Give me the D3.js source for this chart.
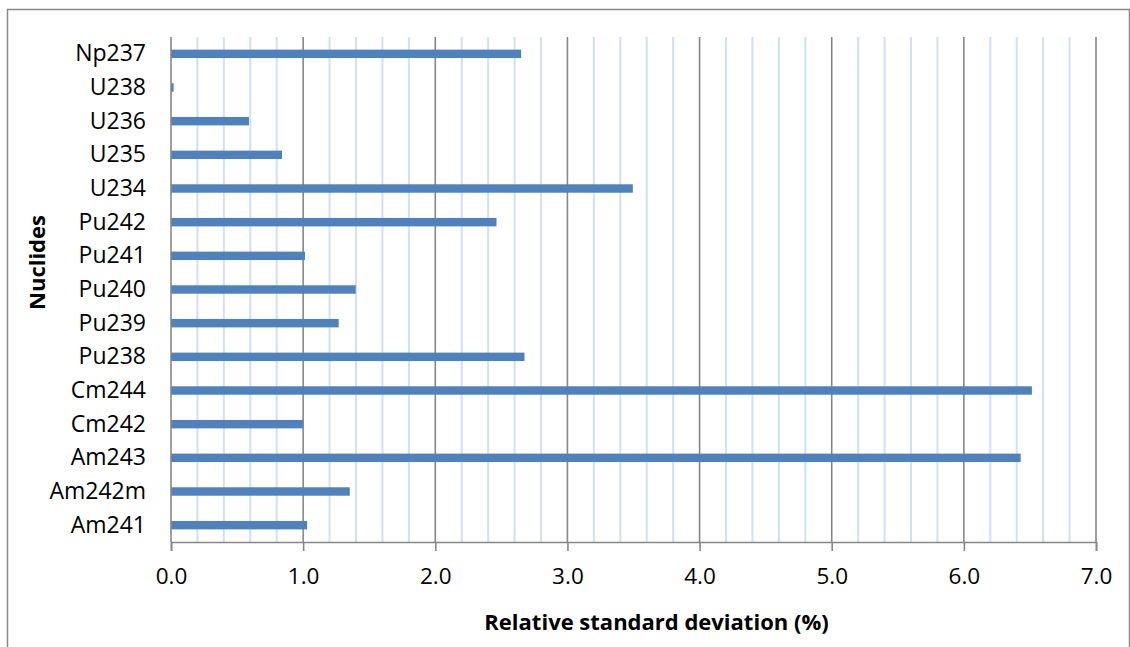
<!DOCTYPE html>
<html>
<head>
<meta charset="utf-8">
<script src="https://cdn.jsdelivr.net/npm/d3@7"></script>
<style>
  html, body { margin: 0; padding: 0; background: #fff; }
  svg { display: block; }
  text { font-family: "Open Sans", "Liberation Sans", sans-serif; fill: #000; }
</style>
</head>
<body>
<svg id="chart" width="1130" height="647"></svg>
<script>
// Nuclides, listed top to bottom
const nuclides = ["Np237", "U238", "U236", "U235", "U234", "Pu242", "Pu241", "Pu240",
                  "Pu239", "Pu238", "Cm244", "Cm242", "Am243", "Am242m", "Am241"];
// Relative standard deviation (%) per nuclide
const rsd = [2.65, 0.02, 0.59, 0.84, 3.495, 2.463, 1.014, 1.398,
             1.269, 2.675, 6.515, 1.0, 6.43, 1.353, 1.03];
const majorTicks = [0, 1, 2, 3, 4, 5, 6, 7];
const minorTicks = d3.range(0, 7.0001, 0.2).map(v => +v.toFixed(1));
const xTitle = "Relative standard deviation (%)";
const yTitle = "Nuclides";

const svg = d3.select("#chart");
const W = 1130, H = 647;
const plot = { left: 171, right: 1096, top: 37, bottom: 542 };

// Outer chart frame
svg.append("rect")
  .attr("x", 7.5).attr("y", 9.5)
  .attr("width", W - 8).attr("height", H)
  .attr("fill", "#fff")
  .attr("stroke", "#898989").attr("stroke-width", 1.5);

const x = d3.scaleLinear().domain([0, 7]).range([plot.left, plot.right]);
const y = d3.scaleBand().domain(nuclides).range([plot.top, plot.bottom]).paddingInner(0.75).paddingOuter(0.375);

// Minor gridlines every 0.2
svg.append("g")
  .selectAll("line")
  .data(minorTicks.filter(v => Math.abs(v - Math.round(v)) > 1e-6))
  .join("line")
  .attr("x1", d => x(d)).attr("x2", d => x(d))
  .attr("y1", plot.top).attr("y2", plot.bottom)
  .attr("stroke", "#d3dff2").attr("stroke-width", 2);

// Major gridlines every 1.0
svg.append("g")
  .selectAll("line")
  .data(majorTicks.filter(v => v > 0))
  .join("line")
  .attr("x1", d => x(d)).attr("x2", d => x(d))
  .attr("y1", plot.top).attr("y2", plot.bottom)
  .attr("stroke", "#878787").attr("stroke-width", 1.6);

// Bars
svg.append("g")
  .selectAll("rect")
  .data(nuclides.map((n, i) => ({ n, v: rsd[i] })))
  .join("rect")
  .attr("x", x(0))
  .attr("y", d => y(d.n))
  .attr("width", d => x(d.v) - x(0))
  .attr("height", y.bandwidth())
  .attr("fill", "#4f81bd");

// Value axis along the bottom
const xAxis = svg.append("g")
  .attr("transform", `translate(0,${plot.bottom})`)
  .call(d3.axisBottom(x).tickValues(majorTicks).tickFormat(d3.format(".1f")).tickSize(9).tickPadding(17));
xAxis.select(".domain").attr("stroke", "#878787").attr("stroke-width", 1.6);
xAxis.selectAll(".tick line").attr("stroke", "#878787").attr("stroke-width", 1.6);
xAxis.selectAll(".tick text")
  .attr("font-size", 22.5).attr("fill", "#000")
  .attr("font-family", "\"Open Sans\", sans-serif");

// Category axis on the left
const yAxis = svg.append("g")
  .attr("transform", `translate(${plot.left},0)`)
  .call(d3.axisLeft(y).tickSize(0).tickPadding(25));
yAxis.select(".domain").attr("stroke", "#878787").attr("stroke-width", 1.6)
  .attr("d", `M0,${plot.top}V${plot.bottom}`);
yAxis.selectAll(".tick text")
  .attr("font-size", 23).attr("fill", "#000")
  .attr("font-family", "\"Open Sans\", sans-serif");

// Axis titles
svg.append("text")
  .attr("x", (plot.left + plot.right) / 2 + 23)
  .attr("y", 630)
  .attr("text-anchor", "middle")
  .attr("font-size", 22).attr("font-weight", "bold")
  .text(xTitle);

svg.append("text")
  .attr("transform", `translate(45,${(plot.top + plot.bottom) / 2 - 27}) rotate(-90)`)
  .attr("text-anchor", "middle")
  .attr("font-size", 22).attr("font-weight", "bold")
  .text(yTitle);
</script>
</body>
</html>
